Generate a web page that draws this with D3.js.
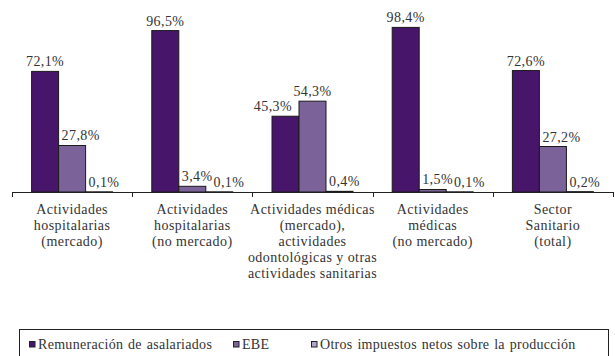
<!DOCTYPE html>
<html>
<head>
<meta charset="utf-8">
<script src="https://cdn.jsdelivr.net/npm/d3@7"></script>
<style>
  html, body { margin: 0; padding: 0; background: #fff; }
  svg { display: block; }
</style>
</head>
<body>
<svg id="chart" width="615" height="356" font-family="'Liberation Serif', 'DejaVu Serif', serif"></svg>
<script>
// Distribución del valor añadido por rama sanitaria (%)
const categories = [
  ["Actividades", "hospitalarias", "(mercado)"],
  ["Actividades", "hospitalarias", "(no mercado)"],
  ["Actividades médicas", "(mercado),", "actividades", "odontológicas y otras", "actividades sanitarias"],
  ["Actividades", "médicas", "(no mercado)"],
  ["Sector", "Sanitario", "(total)"]
];
const seriesNames = ["Remuneración de asalariados", "EBE", "Otros impuestos netos sobre la producción"];
const remuneracion = [72.1, 96.5, 45.3, 98.4, 72.6];
const ebe = [27.8, 3.4, 54.3, 1.5, 27.2];
const otros = [0.1, 0.1, 0.4, 0.1, 0.2];
const valueLabels = [
  ["72,1%", "96,5%", "45,3%", "98,4%", "72,6%"],
  ["27,8%", "3,4%", "54,3%", "1,5%", "27,2%"],
  ["0,1%", "0,1%", "0,4%", "0,1%", "0,2%"]
];
const colors = ["#47166b", "#7b6399", "#b3a5cc"];
const textColor = "#333";

const series = [remuneracion, ebe, otros];
const svg = d3.select("#chart");

const x0 = d3.scaleBand().domain(d3.range(categories.length)).range([12, 613]).paddingInner(0).paddingOuter(0);
const x1 = d3.scaleBand().domain(d3.range(series.length)).range([0, x0.bandwidth()]).paddingInner(0).paddingOuter(0.726);
const y = d3.scaleLinear().domain([0, 110]).range([192, 8]);

// bars
const bars = [];
categories.forEach((c, i) => {
  series.forEach((s, j) => {
    bars.push({ i, j, v: s[i], x: x0(i) + x1(j), w: x1.bandwidth(), top: y(s[i]) });
  });
});
svg.append("g").selectAll("rect").data(bars).join("rect")
  .attr("x", d => d.x).attr("y", d => d.top)
  .attr("width", d => d.w).attr("height", d => y(0) - d.top)
  .attr("fill", d => d.j === 2 ? "#2a1a3a" : colors[d.j])
  .attr("stroke", "#1a1a1a").attr("stroke-width", 1);

// category axis
const axis = svg.append("g");
axis.append("line").attr("x1", 12).attr("x2", 613).attr("y1", 192.5).attr("y2", 192.5)
  .attr("stroke", "#222").attr("stroke-width", 1.2);
const boundaries = d3.range(categories.length + 1).map(i => i < categories.length ? x0(i) : x0(i - 1) + x0.bandwidth());
axis.selectAll("line.tick").data(boundaries).join("line").attr("class", "tick")
  .attr("x1", d => Math.round(d) + 0.5).attr("x2", d => Math.round(d) + 0.5)
  .attr("y1", 192).attr("y2", 197).attr("stroke", "#222");
categories.forEach((lines, i) => {
  const cx = x0(i) + x0.bandwidth() / 2;
  const t = axis.append("text").attr("text-anchor", "middle")
    .attr("x", cx).attr("y", 213.5).attr("fill", textColor)
    .attr("font-size", 14).attr("letter-spacing", 0.45);
  lines.forEach((ln, k) => t.append("tspan").attr("x", cx).attr("dy", k ? 16 : 0).text(ln));
});

// value labels: centred above each bar, nudged off neighbouring bars and labels
const lblG = svg.append("g");
categories.forEach((c, i) => {
  let prevRight = -Infinity, prevBaseline = null;
  series.forEach((s, j) => {
    const b = bars.find(d => d.i === i && d.j === j);
    const baseline = b.top - 5;
    const t = lblG.append("text").attr("y", baseline).attr("fill", textColor)
      .attr("font-size", 14).attr("letter-spacing", 0.4).text(valueLabels[j][i]);
    const w = t.node().getComputedTextLength();
    let left = b.x + b.w / 2 - w / 2;
    const boxBottom = baseline + 2;
    const leftBar = bars.find(d => d.i === i && d.j === j - 1);
    const rightBar = bars.find(d => d.i === i && d.j === j + 1);
    if (leftBar && leftBar.top < boxBottom && left < leftBar.x + leftBar.w + 3) left = leftBar.x + leftBar.w + 3;
    if (rightBar && rightBar.top < boxBottom && left + w > rightBar.x - 7) left = rightBar.x - 7 - w;
    if (prevBaseline !== null && Math.abs(prevBaseline - baseline) < 12 && left < prevRight + 1) left = prevRight + 1;
    t.attr("x", left);
    prevRight = left + w; prevBaseline = baseline;
  });
});

// legend
const lg = svg.append("g");
lg.append("rect").attr("x", 19.5).attr("y", 329.5).attr("width", 589).attr("height", 40)
  .attr("fill", "none").attr("stroke", "#222").attr("stroke-width", 1);
const legendX = [29, 233, 311];
seriesNames.forEach((n, j) => {
  lg.append("rect").attr("x", legendX[j] + 0.5).attr("y", 341.5).attr("width", 5.5).attr("height", 5.5)
    .attr("fill", colors[j]).attr("stroke", "#222").attr("stroke-width", 1);
  lg.append("text").attr("x", legendX[j] + 9).attr("y", 348.5).attr("fill", textColor)
    .attr("font-size", 14).attr("letter-spacing", 0.3).attr("word-spacing", 1).text(n);
});
</script>
</body>
</html>
